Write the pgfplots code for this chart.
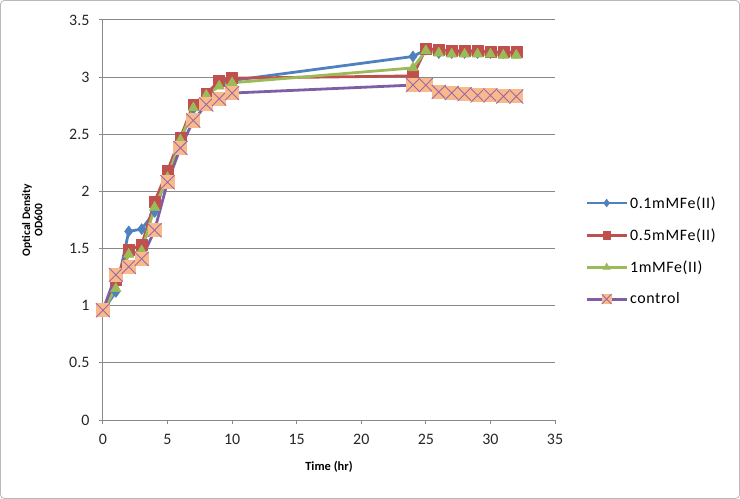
\documentclass[border=0pt]{standalone}
\usepackage{pgfplots}
\pgfplotsset{compat=1.18}
\usepackage{fontspec}
\setmainfont{Carlito}
\newfontfamily\legfont[LetterSpace=4]{Carlito}
\definecolor{cblue}{HTML}{4F81BD}
\definecolor{cred}{HTML}{C0504D}
\definecolor{cgreen}{HTML}{9BBB59}
\definecolor{cpurple}{HTML}{7E5FA6}
\definecolor{ctrlfill}{HTML}{F9B98A}
\definecolor{ctrlline}{HTML}{9A6AA8}
\definecolor{gridc}{HTML}{898989}
\pgfdeclareplotmark{boxx}{%
  \pgfpathrectangle{\pgfqpoint{-\pgfplotmarksize}{-\pgfplotmarksize}}{\pgfqpoint{2\pgfplotmarksize}{2\pgfplotmarksize}}%
  \pgfsetfillcolor{ctrlfill}\pgfusepath{fill}%
  \pgfpathmoveto{\pgfqpoint{-\pgfplotmarksize}{-\pgfplotmarksize}}%
  \pgfpathlineto{\pgfqpoint{\pgfplotmarksize}{\pgfplotmarksize}}%
  \pgfpathmoveto{\pgfqpoint{-\pgfplotmarksize}{\pgfplotmarksize}}%
  \pgfpathlineto{\pgfqpoint{\pgfplotmarksize}{-\pgfplotmarksize}}%
  \pgfsetstrokecolor{ctrlline}\pgfsetlinewidth{0.9pt}\pgfusepath{stroke}}
\begin{document}
\begin{tikzpicture}
\draw[gray!55, line width=0.8bp, rounded corners=4bp] (0.5bp,0.5bp) rectangle (739.5bp,498.5bp);
\begin{axis}[
  at={(103bp,79bp)}, anchor=south west,
  scale only axis, width=452bp, height=400bp,
  xmin=0, xmax=35, ymin=0, ymax=3.5,
  xtick={0,5,...,35}, ytick={0,0.5,...,3.5},
  /pgf/number format/assume math mode=true,
  yticklabel style={/pgf/number format/fixed, /pgf/number format/precision=1, xshift=-6bp},
  xticklabel style={yshift=-7bp},
  tick label style={font=\fontsize{16}{18}\selectfont, text=black!85},
  axis x line*=bottom, axis y line*=left,
  axis line style={gridc, line width=1bp},
  ymajorgrids, major grid style={gridc, line width=0.9bp},
  tick style={gridc, line width=0.9bp},
  tick align=outside, major tick length=4bp,
  xlabel={\bfseries Time (hr)},
  every axis x label/.style={at={(axis description cs:0.5,0)}, anchor=center, yshift=-47bp},
  xlabel style={font=\fontsize{12.5}{14}\selectfont},
  ylabel={\bfseries\begin{tabular}{c}Optical Density\\OD600\end{tabular}},
  every axis y label/.style={at={(axis description cs:-0.153,0.5)}, rotate=90, anchor=center},
  ylabel style={font=\fontsize{11.5}{12.5}\selectfont},
  legend style={at={(1,0.4225)}, anchor=west, xshift=27bp, draw=none, fill=none,
    font=\legfont\fontsize{16}{18}\selectfont, row sep=15bp},
  legend cell align=left,
  legend image code/.code={\draw[mark repeat=2,mark phase=2, every mark/.append style={scale=0.7}] plot coordinates {(0bp,0bp) (20bp,0bp) (40bp,0bp)};},
  every axis plot/.append style={line width=2.8bp, line join=round},
]
\addplot[cblue, mark=diamond*, mark size=5.5bp, mark options={fill=cblue, draw=cblue, line width=0.5bp}] coordinates {
 (0,0.96) (1,1.12) (2,1.65) (3,1.67) (4,1.82) (5,2.15) (6,2.45) (7,2.72) (8,2.82) (9,2.95) (10,2.97)
 (24,3.18) (25,3.24) (26,3.21) (27,3.21) (28,3.21) (29,3.21) (30,3.21) (31,3.21) (32,3.21)};
\addplot[cred, mark=square*, mark size=5.5bp, mark options={fill=cred, draw=cred, line width=0.5bp}] coordinates {
 (0,0.96) (1,1.23) (2,1.49) (3,1.53) (4,1.91) (5,2.18) (6,2.47) (7,2.76) (8,2.85) (9,2.97) (10,2.99)
 (24,3.01) (25,3.25) (26,3.24) (27,3.23) (28,3.23) (29,3.23) (30,3.22) (31,3.22) (32,3.22)};
\addplot[cgreen, mark=triangle*, mark size=6bp, mark options={fill=cgreen, draw=cgreen, line width=0.5bp}] coordinates {
 (0,0.96) (1,1.15) (2,1.45) (3,1.48) (4,1.86) (5,2.12) (6,2.45) (7,2.73) (8,2.84) (9,2.92) (10,2.95)
 (24,3.08) (25,3.23) (26,3.21) (27,3.20) (28,3.20) (29,3.20) (30,3.20) (31,3.19) (32,3.19)};
\addplot[cpurple, mark=boxx, mark size=7bp] coordinates {
 (0,0.96) (1,1.27) (2,1.34) (3,1.41) (4,1.66) (5,2.08) (6,2.38) (7,2.62) (8,2.76) (9,2.81) (10,2.86)
 (24,2.93) (25,2.93) (26,2.87) (27,2.86) (28,2.85) (29,2.84) (30,2.84) (31,2.83) (32,2.83)};
\legend{0.1mMFe(II),0.5mMFe(II),1mMFe(II),control}
\end{axis}
\end{tikzpicture}
\end{document}
